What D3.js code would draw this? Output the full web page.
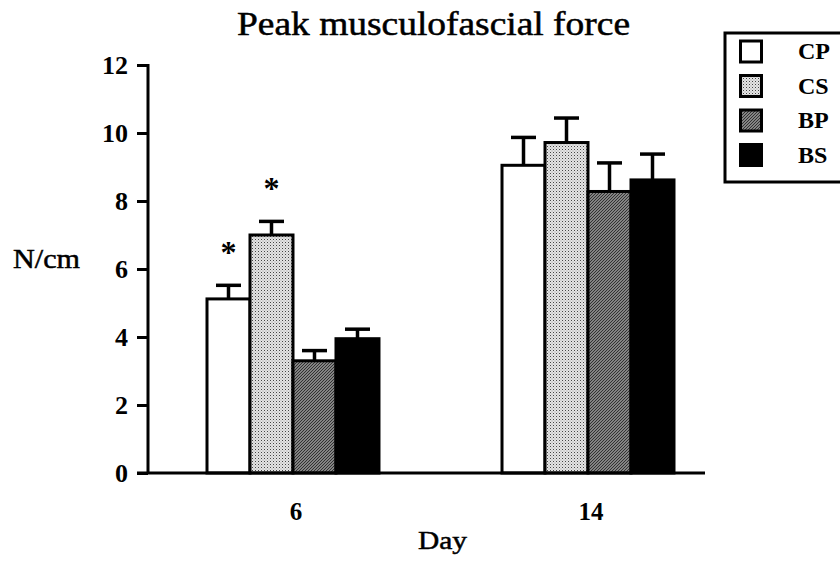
<!DOCTYPE html>
<html>
<head>
<meta charset="utf-8">
<script src="https://cdn.jsdelivr.net/npm/d3@7"></script>
<style>
  html, body { margin: 0; padding: 0; background: #fff; }
  svg { display: block; }
  text { font-family: "Liberation Serif", "Times New Roman", serif; fill: #000; }
</style>
</head>
<body>
<svg id="chart" width="840" height="561"></svg>
<script>
// Peak musculofascial force (N/cm) by day and group
const days = ["6", "14"];
const groups = ["CP", "CS", "BP", "BS"];
const meanCP = [5.12, 9.05];
const meanCS = [7.0, 9.72];
const meanBP = [3.3, 8.28];
const meanBS = [3.95, 8.62];
const errCP = [0.4, 0.82];
const errCS = [0.4, 0.72];
const errBP = [0.3, 0.84];
const errBS = [0.28, 0.76];
const yTicks = [0, 2, 4, 6, 8, 10, 12];
const significant = [[true, true, false, false], [false, false, false, false]];

const means = { CP: meanCP, CS: meanCS, BP: meanBP, BS: meanBS };
const errs = { CP: errCP, CS: errCS, BP: errBP, BS: errBS };

const svg = d3.select("#chart");
const defs = svg.append("defs");

// stipple pattern (light dotted)
const dots = defs.append("pattern").attr("id", "stipple")
  .attr("patternUnits", "userSpaceOnUse").attr("width", 3).attr("height", 3);
dots.append("rect").attr("width", 3).attr("height", 3).attr("fill", "#e4e4e4");
dots.append("rect").attr("x", 0).attr("y", 0).attr("width", 1).attr("height", 1).attr("fill", "#444");
dots.append("rect").attr("x", 1.5).attr("y", 1.5).attr("width", 1).attr("height", 1).attr("fill", "#999");

// diagonal hatch (dark, rising to the right)
const hatch = defs.append("pattern").attr("id", "hatch")
  .attr("patternUnits", "userSpaceOnUse").attr("width", 3).attr("height", 3);
hatch.append("rect").attr("width", 3).attr("height", 3).attr("fill", "#a8a8a8");
hatch.append("path").attr("d", "M-1,1L1,-1M0,3L3,0M2,4L4,2")
  .attr("stroke", "#2a2a2a").attr("stroke-width", 1.1);

const fills = { CP: "#fff", CS: "url(#stipple)", BP: "url(#hatch)", BS: "#000" };

const margin = { left: 148, top: 65, bottom: 88 };
const height = 561 - margin.top - margin.bottom;
const axisEnd = 557;

const g = svg.append("g").attr("transform", `translate(${margin.left},${margin.top})`);

const y = d3.scaleLinear().domain([0, 12]).range([height, 0]);
const x0 = d3.scaleBand().domain(days).range([0, 585]).paddingInner(0.417).paddingOuter(0.2);
const x1 = d3.scaleBand().domain(groups).range([0, x0.bandwidth()]).paddingInner(0);

// bars
days.forEach((d, i) => {
  const dg = g.append("g").attr("transform", `translate(${x0(d)},0)`);
  groups.forEach((k, j) => {
    const v = means[k][i];
    const e = errs[k][i];
    const bx = x1(k);
    const cx = bx + x1.bandwidth() / 2;
    // error bar (upper only)
    dg.append("line").attr("x1", cx).attr("x2", cx)
      .attr("y1", y(v)).attr("y2", y(v + e))
      .attr("stroke", "#000").attr("stroke-width", 3.5);
    dg.append("line").attr("x1", cx - 12.5).attr("x2", cx + 12.5)
      .attr("y1", y(v + e)).attr("y2", y(v + e))
      .attr("stroke", "#000").attr("stroke-width", 3.5);
    dg.append("rect").attr("x", bx).attr("y", y(v))
      .attr("width", x1.bandwidth()).attr("height", y(0) - y(v))
      .attr("fill", fills[k]).attr("stroke", "#000").attr("stroke-width", 3);
    if (significant[i][j]) {
      dg.append("text").attr("x", cx).attr("y", y(v + e) - 22)
        .attr("text-anchor", "middle").attr("font-size", 32).attr("font-weight", "bold")
        .text("*");
    }
  });
});

// y axis
const yAxis = g.append("g").call(d3.axisLeft(y).tickValues(yTicks).tickSize(11).tickPadding(9));
yAxis.select(".domain").attr("stroke-width", 3).attr("d", `M0,${y(12) - 1}V${y(0)}`);
yAxis.selectAll(".tick line").attr("stroke-width", 3);
yAxis.selectAll(".tick text").attr("font-size", 26).attr("font-weight", "bold")
  .attr("font-family", "Liberation Serif, serif");

// x axis
const xAxis = g.append("g").attr("transform", `translate(0,${height})`)
  .call(d3.axisBottom(x0).tickSize(0).tickPadding(29));
xAxis.select(".domain").attr("stroke-width", 3).attr("d", `M-11,0H${axisEnd}`);
xAxis.selectAll(".tick text").attr("font-size", 25).attr("font-weight", "bold")
  .attr("font-family", "Liberation Serif, serif").attr("dx", 3);

// titles (slightly heavier strokes for a printed look)
svg.append("text").attr("x", 433.5).attr("y", 35).attr("text-anchor", "middle")
  .attr("font-size", 33).attr("textLength", 393).attr("lengthAdjust", "spacingAndGlyphs")
  .attr("stroke", "#000").attr("stroke-width", 0.5)
  .text("Peak musculofascial force");
svg.append("text").attr("x", 46.5).attr("y", 268).attr("text-anchor", "middle")
  .attr("font-size", 27).attr("textLength", 67).attr("lengthAdjust", "spacingAndGlyphs")
  .attr("stroke", "#000").attr("stroke-width", 0.5)
  .text("N/cm");
svg.append("text").attr("x", 442.5).attr("y", 549).attr("text-anchor", "middle")
  .attr("font-size", 26).attr("textLength", 49).attr("lengthAdjust", "spacingAndGlyphs")
  .attr("stroke", "#000").attr("stroke-width", 0.5)
  .text("Day");

// legend
const lg = svg.append("g").attr("transform", "translate(725,33)");
lg.append("rect").attr("x", 0).attr("y", 0).attr("width", 130).attr("height", 149)
  .attr("fill", "#fff").attr("stroke", "#000").attr("stroke-width", 3);
groups.forEach((k, j) => {
  const ry = 8 + j * 34.5;
  lg.append("rect").attr("x", 15.5).attr("y", ry).attr("width", 21).attr("height", 21)
    .attr("fill", fills[k]).attr("stroke", "#000").attr("stroke-width", 3);
  lg.append("text").attr("x", 73).attr("y", ry + 18).attr("font-size", 24)
    .attr("font-weight", "bold").text(k);
});
</script>
</body>
</html>
